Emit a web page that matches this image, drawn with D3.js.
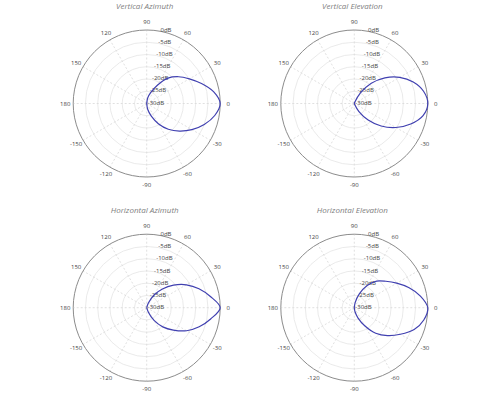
<!DOCTYPE html>
<html>
<head>
<meta charset="utf-8">
<script src="https://cdn.jsdelivr.net/npm/d3@7"></script>
<style>
  body { margin: 0; background: #fff; }
  svg { display: block; font-family: "Open Sans", sans-serif; }
</style>
</head>
<body>
<div id="chart"></div>
<script>
// pattern angles (deg), 0 = boresight, counter-clockwise positive
var angles = [-90, -80, -70, -60, -50, -40, -30, -20, -10, 0, 10, 20, 30, 40, 50, 60, 70, 80, 90];

// gain in dB at each angle, one list per plot
var vertAzimuth   = [-30, -27.5, -24.5, -20.5, -16.3, -12.5, -8.7, -5, -1.8, 0, -2.3, -6.2, -9.9, -13, -16.5, -21.5, -25.3, -27.7, -30];
var vertElevation = [-30, -30, -29.7, -26.2, -21.2, -15.7, -10.4, -5.5, -1.5, 0, -1.3, -4.4, -8.6, -13.7, -19.2, -25, -29.5, -30, -30];
var horzAzimuth   = [-30, -30, -28, -24, -19.8, -15.8, -11.2, -7.2, -3.5, 0, -3.6, -7.3, -11.3, -15.7, -20, -24, -28, -30, -30];
var horzElevation = [-30, -28.3, -25.5, -21.5, -16.4, -12.3, -8.3, -4, -1.2, 0, -2.6, -6.2, -10, -13.2, -15.8, -19.5, -24, -27.8, -30];

var titles = ['Vertical Azimuth', 'Vertical Elevation', 'Horizontal Azimuth', 'Horizontal Elevation'];
var series = [vertAzimuth, vertElevation, horzAzimuth, horzElevation];

// grid ticks
var dbTicks = [0, -5, -10, -15, -20, -25, -30];
var angleTicks = [0, 30, 60, 90, 120, 150, 180, -150, -120, -90, -60, -30];

var width = 500, height = 400;
var R = 73.5;
var centers = [[146.7, 103.5], [354.3, 103.5], [146.7, 307.7], [354.3, 307.7]];

var svg = d3.select('#chart').append('svg')
    .attr('width', width)
    .attr('height', height);

var r = d3.scaleLinear().domain([-30, 0]).range([0, R]).clamp(true);
var rad = function (deg) { return deg * Math.PI / 180; };

series.forEach(function (gains, i) {
    var cx = centers[i][0], cy = centers[i][1];
    var g = svg.append('g').attr('transform', 'translate(' + cx + ',' + cy + ')');

    // title
    svg.append('text')
        .attr('x', cx - 2)
        .attr('y', cy - 95)
        .attr('text-anchor', 'middle')
        .attr('font-size', 8)
        .attr('font-style', 'italic')
        .attr('fill', '#808080')
        .text(titles[i]);

    // rings
    g.selectAll('circle.ring')
        .data(dbTicks.filter(function (d) { return d > -30 && d < 0; }))
        .enter().append('circle')
        .attr('r', function (d) { return r(d); })
        .attr('fill', 'none')
        .attr('stroke', '#e4e4e4')
        .attr('stroke-width', 0.8);

    // spokes
    g.selectAll('line.spoke')
        .data(angleTicks)
        .enter().append('line')
        .attr('x1', 0).attr('y1', 0)
        .attr('x2', function (d) { return R * Math.cos(rad(d)); })
        .attr('y2', function (d) { return -R * Math.sin(rad(d)); })
        .attr('stroke', '#d8d8d8')
        .attr('stroke-width', 0.8)
        .attr('stroke-dasharray', '2,2');

    // outer circle
    g.append('circle')
        .attr('r', R)
        .attr('fill', 'none')
        .attr('stroke', '#8c8c8c')
        .attr('stroke-width', 1);

    // angle labels
    g.selectAll('text.angle')
        .data(angleTicks)
        .enter().append('text')
        .attr('x', function (d) { return (R + 8) * Math.cos(rad(d)); })
        .attr('y', function (d) { return -(R + 8) * Math.sin(rad(d)); })
        .attr('text-anchor', 'middle')
        .attr('dominant-baseline', 'central')
        .attr('font-size', 6)
        .attr('fill', '#444')
        .text(function (d) { return d; });

    // dB labels, along the 80 deg line
    g.selectAll('text.db')
        .data(dbTicks)
        .enter().append('text')
        .attr('x', function (d) { return 1 + r(d) * Math.cos(rad(80)); })
        .attr('y', function (d) { return 1 - r(d) * Math.sin(rad(80)); })
        .attr('font-size', 6)
        .attr('fill', '#444')
        .text(function (d) { return d + 'dB'; });

    // pattern
    var line = d3.lineRadial()
        .angle(function (d) { return Math.PI / 2 - rad(d[0]); })
        .radius(function (d) { return r(d[1]); })
        .curve(d3.curveCatmullRom);

    g.append('path')
        .datum(d3.zip(angles, gains))
        .attr('d', line)
        .attr('fill', 'none')
        .attr('stroke', '#4040b0')
        .attr('stroke-width', 1.2);
});
</script>
</body>
</html>
